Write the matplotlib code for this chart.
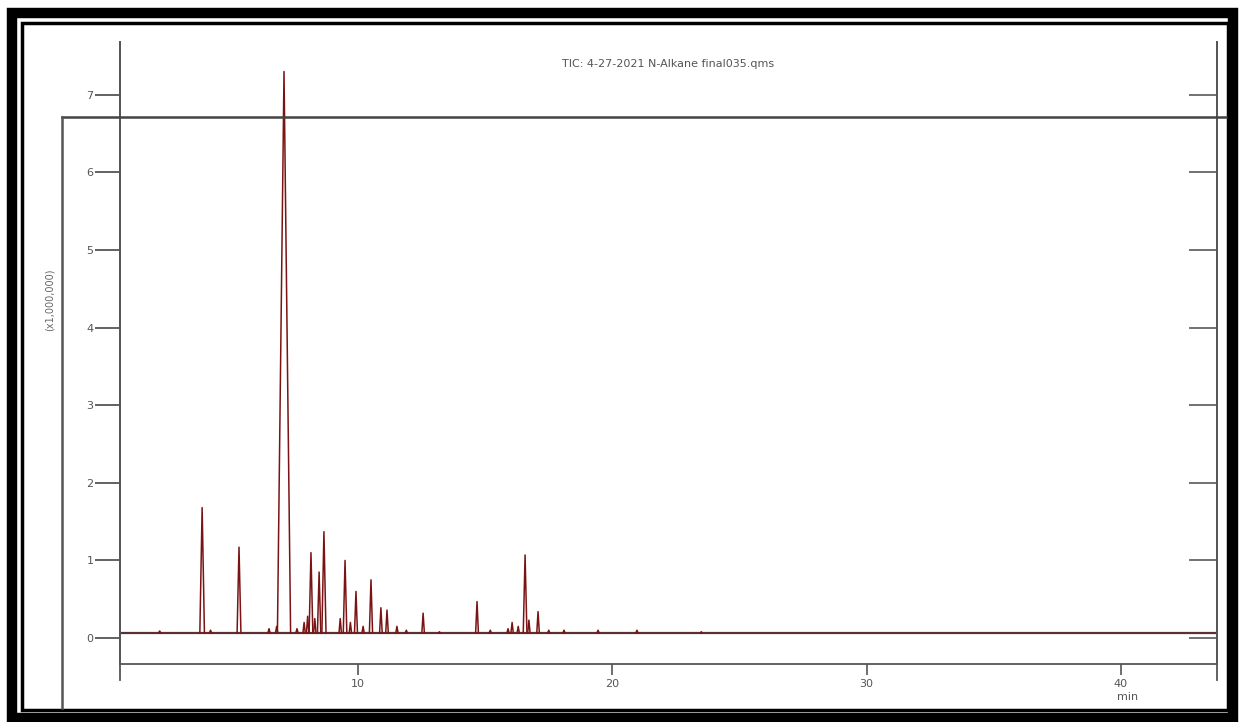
import matplotlib.pyplot as plt
from matplotlib.patches import Rectangle
from matplotlib.lines import Line2D
import numpy as np

# peak retention times (min) and heights (x1,000,000)
peak_time = [3.87, 5.32, 7.09, 7.88, 8.02, 8.15, 8.30, 8.47, 8.66, 9.30, 9.49, 9.70,
             9.92, 10.20, 10.51, 10.90, 11.14, 11.53, 12.56, 14.68, 16.06, 16.30,
             16.57, 16.72, 17.08, 19.44, 20.97]
peak_height = [1.68, 1.17, 7.30, 0.20, 0.28, 1.10, 0.25, 0.85, 1.37, 0.25, 1.00, 0.20,
               0.60, 0.15, 0.75, 0.39, 0.36, 0.15, 0.32, 0.47, 0.20, 0.15,
               1.07, 0.23, 0.34, 0.10, 0.10]
small_time = [2.2, 4.2, 6.5, 6.8, 7.6, 11.9, 13.2, 15.2, 15.9, 17.5, 18.1, 23.5]
small_height = [0.09, 0.10, 0.12, 0.15, 0.12, 0.10, 0.08, 0.10, 0.12, 0.10, 0.10, 0.08]
baseline = 0.065

title = "TIC: 4-27-2021 N-Alkane final035.qms"
yticks = [0, 1, 2, 3, 4, 5, 6, 7]
xticks = [10, 20, 30, 40]

W, H = 1240, 722
fig = plt.figure(figsize=(12.4, 7.22), dpi=100)

def px(x, y):
    return x / W, 1 - y / H

ax = fig.add_axes([120 / W, 1 - 664 / H, (1217 - 120) / W, (664 - 42) / H])
ax.set_xlim(0.64, 43.78)
ax.set_ylim(-0.335, 7.68)

red = '#7a1414'
ax.axhline(baseline, color='#5a3030', lw=1.6)
for t, h in zip(small_time + peak_time, small_height + peak_height):
    w = 0.04 + 0.03 * h
    ax.plot([t - w, t, t + w], [baseline, h, baseline], color=red, lw=1.1)

for s in ['top']:
    ax.spines[s].set_visible(False)
for s in ['left', 'right', 'bottom']:
    ax.spines[s].set_color('#555555')
    ax.spines[s].set_linewidth(1.3)

ax.set_yticks(yticks)
ax.set_yticklabels([str(v) for v in yticks], fontsize=8, color='#555555')
ax.tick_params(axis='y', length=18, width=1.3, color='#555555', pad=1)
ax.set_xticks(xticks)
ax.set_xticklabels([str(v) for v in xticks], fontsize=8, color='#555555')
ax.tick_params(axis='x', length=8, width=1.2, color='#555555', pad=3)

ax2 = ax.twinx()
ax2.set_ylim(ax.get_ylim())
ax2.set_yticks(yticks)
ax2.set_yticklabels([])
ax2.tick_params(axis='y', direction='in', length=20, width=1.3, color='#666666')
for s in ['top', 'left', 'bottom', 'right']:
    ax2.spines[s].set_visible(False)

ax.text(0.5, 0.965, title, transform=ax.transAxes, ha='center', va='center',
        fontsize=8, color='#555555')
fig.text(1128 / W, 1 - 697 / H, 'min', ha='center', va='center', fontsize=8, color='#555555')
fig.text(50 / W, 1 - 300 / H, '(x1,000,000)', rotation=90, ha='center', va='center',
         fontsize=7, color='#666666')

# axis extensions below x axis and overlay box lines
for x0, y0, x1, y1, lw, c in [(120, 42, 120, 680, 1.3, '#555555'),
                              (1217, 42, 1217, 680, 1.3, '#555555'),
                              (62, 117, 1226, 117, 1.8, '#444444'),
                              (62, 117, 62, 708, 1.8, '#555555')]:
    a, b = px(x0, y0)
    c2, d = px(x1, y1)
    fig.add_artist(Line2D([a, c2], [b, d], color=c, lw=lw))

# scanned frame
fig.add_artist(Rectangle(px(11.5, 717.5), (1233 - 11.5) / W, (717.5 - 13) / H, fill=False,
                         ec='black', lw=7.5, transform=fig.transFigure))
fig.add_artist(Rectangle(px(22, 710), (1228 - 22) / W, (710 - 23) / H, fill=False,
                         ec='black', lw=2.5, transform=fig.transFigure))

plt.savefig('out.png', dpi=100)
